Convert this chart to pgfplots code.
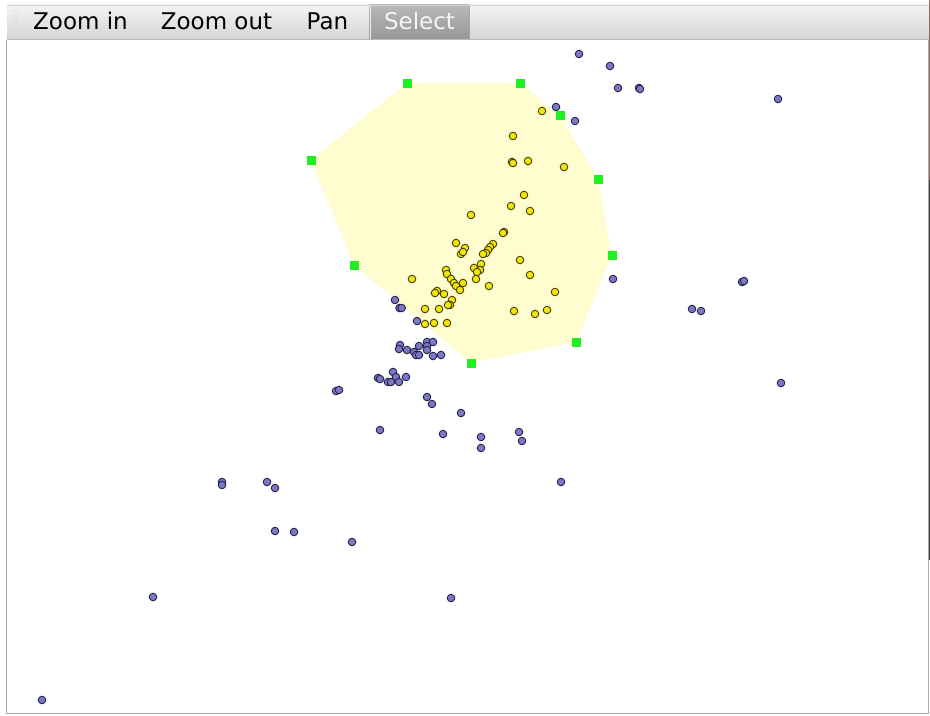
\documentclass[border=0pt]{standalone}
\usepackage{pgfplots}
\pgfplotsset{compat=1.18}
\usepackage{fontspec}
\setmainfont{DejaVu Sans}
\definecolor{barTop}{HTML}{F4F4F4}
\definecolor{barBot}{HTML}{D4D4D4}
\definecolor{selTop}{HTML}{B8B8B8}
\definecolor{selBot}{HTML}{969696}
\definecolor{selFill}{HTML}{FFFDCF}
\definecolor{vertex}{HTML}{1FF01F}
\definecolor{ptBlue}{HTML}{7D78C6}
\definecolor{ptBlueEdge}{HTML}{22224A}
\definecolor{ptYel}{HTML}{F2E60A}
\definecolor{ptYelEdge}{HTML}{453F00}
\definecolor{frame}{HTML}{A8A8A8}
\begin{document}
\begin{tikzpicture}
\begin{axis}[
  width=930bp, height=715bp, scale only axis,
  xmin=0, xmax=930, ymin=0, ymax=715, y dir=reverse,
  hide axis, clip=false,
]
% window background and plot frame
\fill[white] (axis cs:0,0) rectangle (axis cs:930,715);
\draw[frame, line width=1bp] (axis cs:6.5,40) -- (axis cs:6.5,713) -- (axis cs:928,713) -- (axis cs:928,40);
\fill[black!70!red!60] (axis cs:928.5,0) rectangle (axis cs:930,180);
\fill[black!75] (axis cs:928.5,180) rectangle (axis cs:930,560);

% toolbar
\shade[top color=barTop, bottom color=barBot] (axis cs:7,5) rectangle (axis cs:928.5,40);
\shade[top color=selTop, bottom color=selBot] (axis cs:369,5) rectangle (axis cs:469,40);
\draw[white!85!gray, line width=0.8bp] (axis cs:370,5) -- (axis cs:370,40);
\draw[gray!70, line width=0.8bp] (axis cs:469,5) -- (axis cs:469,40);
\draw[gray!55, line width=1bp] (axis cs:7,40) -- (axis cs:928.5,40);
\draw[gray!35, line width=0.6bp] (axis cs:7,5) -- (axis cs:928.5,5);
% toolbar grip
\pgfplotsinvokeforeach{11,15,19,23,27,31,35}{
  \fill[gray!30] (axis cs:14,#1) circle (0.8bp);
  \fill[gray!30] (axis cs:17,#1+2) circle (0.8bp);
}
\begin{scope}[every node/.style={anchor=base, inner sep=0pt, font=\fontsize{23bp}{27bp}\selectfont}]
\node[black] at (axis cs:80.5,29.5) {Zoom in};
\node[black] at (axis cs:216.5,29.5) {Zoom out};
\node[black] at (axis cs:327.5,29.5) {Pan};
\node[white!96!black] at (axis cs:419.5,29.5) {Select};
\end{scope}

% selection polygon
\addplot[fill=selFill, draw=none] coordinates {
  (407,83) (520,83) (560,115) (598,179) (612,255)
  (576,342) (471,363) (354,265) (311,160)
} -- cycle;

% unselected points
\addplot[only marks, mark=*, mark size=3.8,
  mark options={fill=ptBlue, draw=ptBlueEdge, line width=0.9bp}] coordinates {
  (579,54) (610,66) (618,88) (639,88) (640,89) (778,99) (556,107) (575,121)
  (613,279) (742,282) (744,281) (692,309) (701,311) (781,383)
  (395,300) (399.5,308) (401.7,308) (417,321)
  (400,345) (399,349) (407,350) (414,352) (416,355) (419,355) (419,346)
  (427,342) (433,342) (427,346) (427,350) (433,356) (441,355)
  (393,372) (378,378) (380,379) (396,377) (406,377) (388,382) (391,382) (399,382)
  (336,391) (339,390) (427,397) (432,404) (461,413) (380,430) (443,434)
  (481,437) (481,448) (519,432) (522,441)
  (222,482) (222,485) (267,482) (275,488) (275,531) (294,532) (352,542)
  (153,597) (451,598) (561,482) (42,700)
};

% selected points
\addplot[only marks, mark=*, mark size=3.8,
  mark options={fill=ptYel, draw=ptYelEdge, line width=0.9bp}] coordinates {
  (542,111) (513,136) (512,162) (513,163) (528,161) (564,167) (524,195)
  (511,206) (530,211) (471,215) (504,232) (503,233) (456,243) (465,248)
  (493,244) (490,247) (488,250) (486,253) (483,254) (461,254) (463,252)
  (481,264) (474,268) (480,270) (477,272) (476,279) (520,260) (530,275)
  (446,270) (447,274) (451,279) (454,283) (463,283) (456,286) (460,290)
  (412,279) (489,286) (555,292) (437,291) (435,293) (444,294) (452,300)
  (450,305) (448,305) (425,309) (439,309) (514,311) (547,310) (535,314)
  (425,324) (434,323) (447,323)
};

% polygon vertices
\addplot[only marks, mark=square*, mark size=4.2,
  mark options={fill=vertex, draw=vertex}] coordinates {
  (407,83) (520,83) (560,115) (598,179) (612,255)
  (576,342) (471,363) (354,265) (311,160)
};
\end{axis}
\end{tikzpicture}
\end{document}
